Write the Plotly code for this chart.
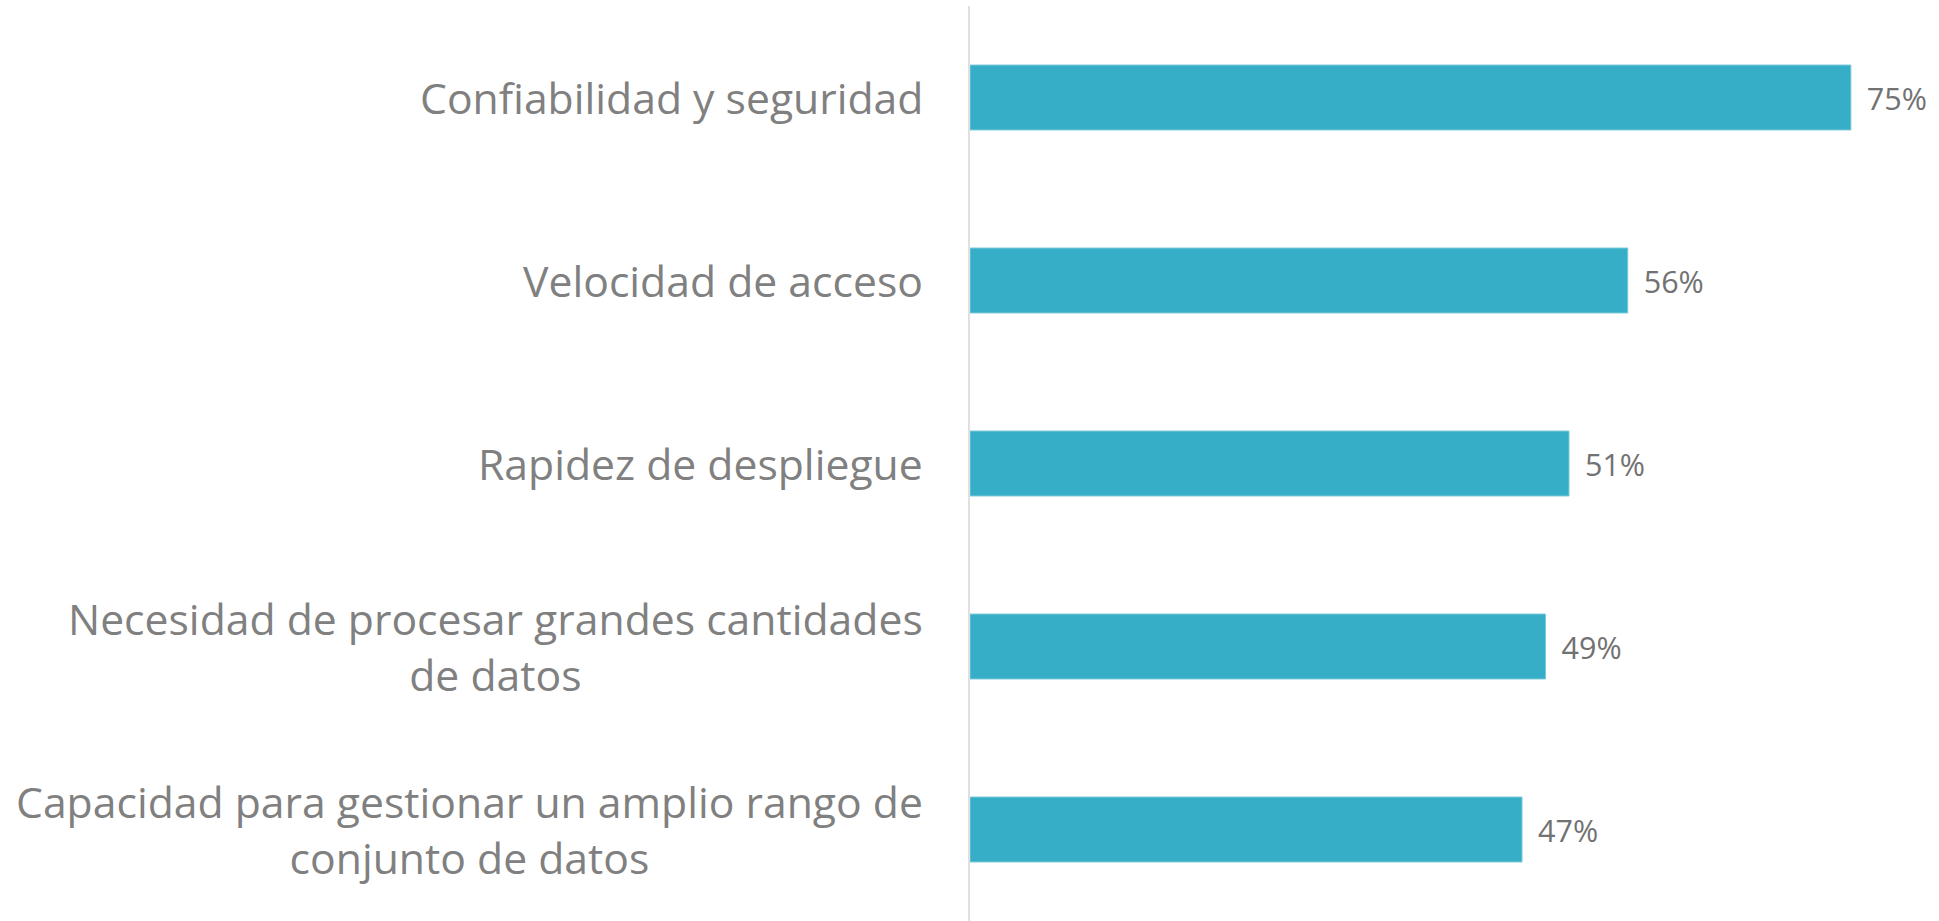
import plotly.graph_objects as go

categories = [
    "Confiabilidad y seguridad",
    "Velocidad de acceso",
    "Rapidez de despliegue",
    "Necesidad de procesar grandes cantidades<br>de datos",
    "Capacidad para gestionar un amplio rango de<br>conjunto de datos",
]
values = [75, 56, 51, 49, 47]
value_labels = ["75%", "56%", "51%", "49%", "47%"]

BAR_COLOR = "#37AEC8"
LABEL_COLOR = "#808080"
VALUE_COLOR = "#727272"
FONT = "Open Sans"

fig = go.Figure()
fig.add_trace(go.Bar(
    x=values,
    y=categories,
    orientation="h",
    marker=dict(color=BAR_COLOR, line=dict(color="#7cc9da", width=1)),
    text=["\u00a0\u2009" + t for t in value_labels],
    textposition="outside",
    textfont=dict(family=FONT, size=30.5, color=VALUE_COLOR),
    cliponaxis=False,
    hoverinfo="skip",
))

for cat in categories:
    fig.add_annotation(
        x=0, xref="paper", y=cat, yref="y",
        text=cat, showarrow=False,
        xanchor="right", yanchor="middle", align="center",
        xshift=-45,
        font=dict(family=FONT, size=42.7, color=LABEL_COLOR),
    )

fig.update_layout(
    width=1939, height=921,
    margin=dict(l=970, r=20, t=6, b=0),
    paper_bgcolor="white", plot_bgcolor="white",
    bargap=0.645,
    showlegend=False,
    font=dict(family=FONT),
)
fig.update_xaxes(range=[0, 80.8], visible=False, showgrid=False, zeroline=False)
fig.update_yaxes(
    autorange="reversed",
    showticklabels=False,
    showgrid=False,
    zeroline=False,
    showline=True, linecolor="#e0e0e0", linewidth=2,
    ticks="",
)

fig.write_html(
    "out.html",
    config={"displayModeBar": False},
    post_script="document.body.style.margin='0';document.body.style.overflow='hidden';",
)
